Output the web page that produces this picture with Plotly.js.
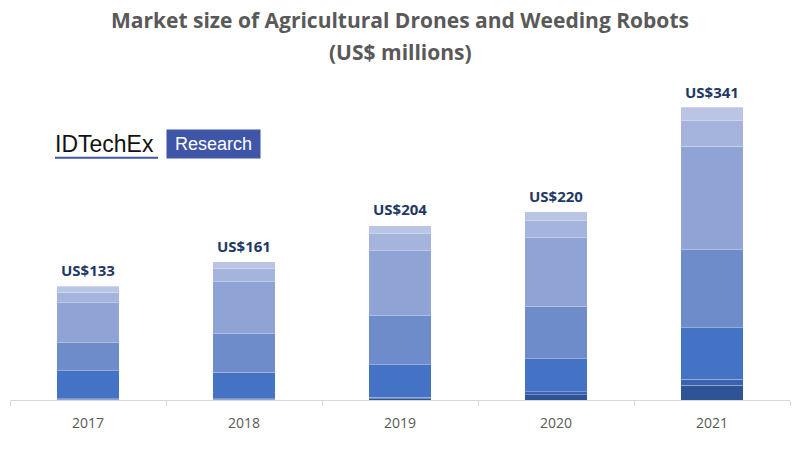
<!DOCTYPE html>
<html>
<head>
<meta charset="utf-8">
<script src="https://cdn.plot.ly/plotly-3.0.1.min.js"></script>
<style>html,body{margin:0;padding:0;background:#fff;}#chart{width:800px;height:450px;}</style>
</head>
<body>
<div id="chart"></div>
<script>
const years = ['2017', '2018', '2019', '2020', '2021'];
const totals = [133, 161, 204, 220, 341];
const totalLabels = ['US$133', 'US$161', 'US$204', 'US$220', 'US$341'];
// stacked segments, bottom to top
const seg1 = [1, 1, 1.5, 6.4, 17.3];
const seg2 = [0.5, 0.7, 1.5, 3.1, 7];
const seg3 = [32.5, 30.7, 38.2, 38.9, 60];
const seg4 = [32.7, 45.2, 57.2, 61, 91.4];
const seg5 = [47, 60.3, 75.8, 79.8, 120.5];
const seg6 = [12.4, 15.2, 20.2, 20.2, 30];
const seg7 = [7, 8.2, 9.3, 10.2, 15.5];

const segs = [seg1, seg2, seg3, seg4, seg5, seg6, seg7];
const colors = ['#2F5496', '#3B62AE', '#4472C4', '#6E8BCA', '#8FA4D4', '#A5B4DC', '#BAC5E5'];

const traces = segs.map((s, i) => ({
  type: 'bar',
  x: years,
  y: s,
  marker: {color: colors[i], line: {color: 'rgba(255,255,255,0.35)', width: 0.8}},
  hoverinfo: 'skip',
  showlegend: false
}));

const annotations = years.map((yr, i) => ({
  x: i, y: totals[i], xref: 'x', yref: 'y',
  text: '<b>' + totalLabels[i] + '</b>',
  showarrow: false, yanchor: 'bottom', yshift: 4,
  font: {family: 'Open Sans, sans-serif', size: 15, color: '#1F3864'}
}));

annotations.push(
  {xref: 'paper', yref: 'paper', x: 0.5, y: 1 + (60 - 20) / 340.5, xanchor: 'center', yanchor: 'middle',
   text: '<b>Market size of Agricultural Drones and Weeding Robots</b>',
   showarrow: false, font: {family: 'Open Sans, sans-serif', size: 21, color: '#595959'}},
  {xref: 'paper', yref: 'paper', x: 0.5, y: 1 + (60 - 52) / 340.5, xanchor: 'center', yanchor: 'middle',
   text: '<b>(US$ millions)</b>', showarrow: false,
   font: {family: 'Open Sans, sans-serif', size: 21, color: '#595959'}}
);

const layout = {
  width: 800, height: 450,
  margin: {l: 10, r: 10, t: 60, b: 49.5},
  paper_bgcolor: '#fff', plot_bgcolor: '#fff',
  barmode: 'stack', bargap: 0.6,
  xaxis: {
    type: 'category', showline: true, linecolor: '#D9D9D9', linewidth: 1,
    ticks: 'outside', tickson: 'boundaries', ticklen: 5, tickcolor: '#D9D9D9',
    ticklabelstandoff: 10,
    tickfont: {family: 'Open Sans, sans-serif', size: 14, color: '#595959'},
    showgrid: false, zeroline: false, fixedrange: true, tickangle: 0
  },
  yaxis: {range: [0, 397], visible: false, showgrid: false, zeroline: false, fixedrange: true},
  annotations: annotations,
  showlegend: false
};

// IDTechEx logo (decoration)
layout.annotations.push(
  {xref: 'paper', yref: 'paper', x: (53 - 10) / 780, y: 1 - (144 - 60) / 340.5,
   xanchor: 'left', yanchor: 'middle', showarrow: false, text: 'IDTechEx',
   font: {family: 'Liberation Sans, Arial, sans-serif', size: 23, color: '#111'}},
  {xref: 'paper', yref: 'paper', x: (166 - 10) / 780, y: 1 - (144 - 60) / 340.5,
   xanchor: 'left', yanchor: 'middle', showarrow: false, text: 'Research',
   bgcolor: '#3F55A8', borderpad: 3, width: 87, height: 22,
   font: {family: 'Liberation Sans, Arial, sans-serif', size: 18, color: '#fff'}}
);
layout.shapes = [
  {type: 'line', xref: 'paper', yref: 'paper',
   x0: (55 - 10) / 780, x1: (158 - 10) / 780,
   y0: 1 - (158 - 60) / 340.5, y1: 1 - (158 - 60) / 340.5,
   line: {color: '#3F55A8', width: 2}}
];

Plotly.newPlot('chart', traces, layout, {displayModeBar: false, staticPlot: true});
</script>
</body>
</html>
